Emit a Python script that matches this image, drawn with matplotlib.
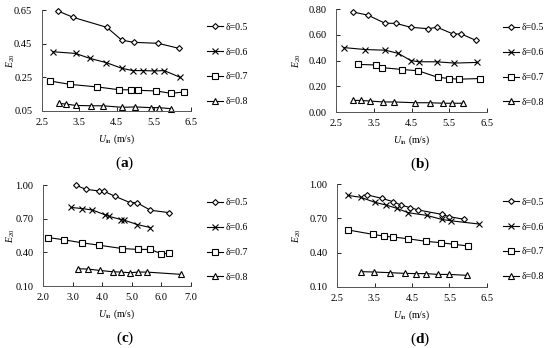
import matplotlib
matplotlib.use("Agg")
import matplotlib.pyplot as plt
from matplotlib.ticker import FormatStrFormatter

plt.rcParams['font.family'] = ['Liberation Serif', 'DejaVu Serif']
plt.rcParams['mathtext.fontset'] = 'custom'
plt.rcParams['mathtext.rm'] = 'Liberation Serif'
plt.rcParams['mathtext.it'] = 'Liberation Serif:italic'
plt.rcParams['mathtext.bf'] = 'Liberation Serif:bold'

# ---------------- DATA ----------------
labels = ['δ=0.5', 'δ=0.6', 'δ=0.7', 'δ=0.8']

# panel (a)
a_u = [[2.92, 3.34, 4.24, 4.64, 4.96, 5.62, 6.18],
       [2.80, 3.40, 3.78, 4.23, 4.65, 4.94, 5.21, 5.52, 5.78, 6.21],
       [2.72, 3.26, 3.98, 4.58, 4.89, 5.07, 5.57, 5.96, 6.32],
       [2.96, 3.15, 3.41, 3.82, 4.13, 4.65, 5.01, 5.43, 5.64, 5.95]]
a_e = [[0.645, 0.606, 0.547, 0.471, 0.458, 0.452, 0.422],
       [0.402, 0.392, 0.363, 0.337, 0.303, 0.290, 0.290, 0.288, 0.290, 0.250],
       [0.228, 0.208, 0.193, 0.176, 0.176, 0.173, 0.169, 0.155, 0.163],
       [0.095, 0.091, 0.083, 0.081, 0.081, 0.072, 0.074, 0.070, 0.070, 0.064]]

# panel (b)
b_u = [[2.94, 3.34, 3.80, 4.08, 4.48, 4.94, 5.18, 5.60, 5.82, 6.20],
       [2.72, 3.28, 3.81, 4.15, 4.48, 4.69, 5.17, 5.63, 6.24],
       [3.07, 3.57, 3.71, 4.26, 4.68, 5.19, 5.50, 5.76, 6.32],
       [2.94, 3.16, 3.40, 3.75, 4.04, 4.59, 4.99, 5.34, 5.58, 5.87]]
b_e = [[0.777, 0.753, 0.689, 0.689, 0.658, 0.647, 0.658, 0.606, 0.606, 0.557],
       [0.500, 0.485, 0.480, 0.455, 0.400, 0.390, 0.390, 0.380, 0.385],
       [0.370, 0.365, 0.345, 0.330, 0.320, 0.270, 0.260, 0.255, 0.260],
       [0.090, 0.090, 0.085, 0.078, 0.078, 0.072, 0.072, 0.068, 0.068, 0.068]]

# panel (c)
c_u = [[3.10, 3.44, 3.89, 4.06, 4.43, 4.94, 5.17, 5.63, 6.25],
       [2.95, 3.32, 3.67, 4.11, 4.24, 4.64, 4.75, 5.18, 5.62],
       [2.17, 2.70, 3.32, 3.88, 4.67, 5.20, 5.63, 6.00, 6.25],
       [3.17, 3.51, 3.91, 4.35, 4.64, 4.95, 5.20, 5.50, 6.65]]
c_e = [[1.000, 0.962, 0.947, 0.944, 0.900, 0.843, 0.843, 0.775, 0.754],
       [0.800, 0.790, 0.777, 0.733, 0.720, 0.692, 0.686, 0.648, 0.621],
       [0.532, 0.512, 0.485, 0.464, 0.434, 0.426, 0.426, 0.387, 0.390],
       [0.254, 0.251, 0.239, 0.227, 0.224, 0.218, 0.224, 0.224, 0.204]]

# panel (d)
d_u = [[3.29, 3.69, 4.00, 4.21, 4.45, 4.67, 5.29, 5.49, 5.88],
       [2.80, 3.13, 3.51, 3.81, 4.09, 4.40, 4.89, 5.29, 5.53, 6.29],
       [2.80, 3.46, 3.74, 3.98, 4.39, 4.87, 5.27, 5.62, 6.00],
       [3.15, 3.48, 3.92, 4.32, 4.60, 4.88, 5.20, 5.49, 5.96]]
d_e = [[0.906, 0.875, 0.845, 0.816, 0.793, 0.773, 0.735, 0.715, 0.692],
       [0.900, 0.884, 0.840, 0.816, 0.788, 0.749, 0.726, 0.691, 0.679, 0.650],
       [0.598, 0.560, 0.545, 0.537, 0.522, 0.499, 0.487, 0.473, 0.458],
       [0.234, 0.231, 0.225, 0.219, 0.217, 0.217, 0.210, 0.210, 0.202]]

markers = ['D', 'x', 's', '^']
msizes = [3.0, 5.0, 4.5, 4.0]

# ---------------- PLOT ----------------
W, H = 550, 348
fig = plt.figure(figsize=(5.5, 3.48), dpi=100)


def px_axes(l, t, r, b):
    return fig.add_axes([l / W, 1 - b / H, (r - l) / W, (b - t) / H])


# data, axes box (px), x range, y range, tag, legend x/y (px), y-label x (px)
panels = [
    (a_u, a_e, (42, 10, 191, 111), (2.5, 6.5, 1.0), (0.05, 0.65, 0.2), 'a', 207, 64.5, 11),
    (b_u, b_e, (336, 9, 487, 112), (2.5, 6.5, 1.0), (0.0, 0.8, 0.2), 'b', 503, 65.0, 297),
    (c_u, c_e, (43, 185, 191, 286), (2.0, 7.0, 1.0), (0.1, 1.0, 0.3), 'c', 207, 240.0, 11),
    (d_u, d_e, (337, 184, 487, 287), (2.5, 6.5, 1.0), (0.1, 1.0, 0.3), 'd', 503, 239.5, 297),
]

for us, es, box, xr, yr, tag, legx, legy, ylx in panels:
    ax = px_axes(*box)
    for u, e, m, ms, lab in zip(us, es, markers, msizes, labels):
        ax.plot(u, e, color='black', lw=0.8, marker=m, ms=ms,
                mfc='white', mec='black', mew=0.8, label=lab, clip_on=False)
    x0, x1, dx = xr
    y0, y1, dy = yr
    ax.set_xlim(x0, x1)
    ax.set_ylim(y0, y1)
    nx = int(round((x1 - x0) / dx))
    ny = int(round((y1 - y0) / dy))
    ax.set_xticks([x0 + i * dx for i in range(nx + 1)])
    ax.set_yticks([y0 + i * dy for i in range(ny + 1)])
    ax.xaxis.set_major_formatter(FormatStrFormatter('%.1f'))
    ax.yaxis.set_major_formatter(FormatStrFormatter('%.2f'))
    ax.tick_params(direction='in', length=3, width=0.6, labelsize=7.5)
    ax.tick_params(axis='x', pad=5)
    ax.tick_params(axis='y', pad=7)
    for s in ['top', 'right']:
        ax.spines[s].set_visible(False)
    for s in ['left', 'bottom']:
        ax.spines[s].set_linewidth(0.7)
        ax.spines[s].set_color('#555555')
    ax.set_xlabel(r'$U_{\mathrm{in}}$ (m/s)', fontsize=7, labelpad=4)
    ax.set_ylabel(r'$E_{20}$', fontsize=7, va='center')
    ax.yaxis.set_label_coords((ylx - box[0]) / (box[2] - box[0]), 0.5)
    ax.legend(loc='center left', bbox_to_anchor=(legx / W, 1 - legy / H),
              bbox_transform=fig.transFigure, frameon=False, fontsize=7,
              labelspacing=1.63, handlelength=1.6, handletextpad=0.3,
              borderpad=0, borderaxespad=0)
    cx = (box[0] + box[2]) / 2 / W + 0.005
    fig.text(cx + 0.01, 1 - (box[3] + 52) / H, r'(' + r'$\mathbf{' + tag + '}$' + ')',
             ha='center', va='center', fontsize=11)

fig.savefig('out.png', dpi=100)
